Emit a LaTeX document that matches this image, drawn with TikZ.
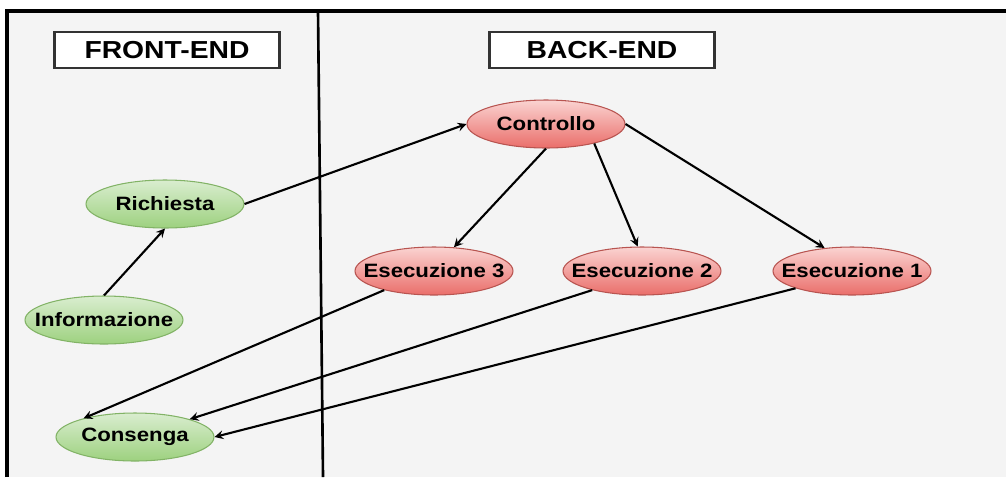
\documentclass[tikz,border=0pt]{standalone}
\usepackage{fontspec}
\setmainfont{Liberation Sans}
\newfontfamily\widesans[FakeStretch=1.15]{Liberation Sans}
\usepackage{tikz}
\usetikzlibrary{shapes.geometric}

\definecolor{panel}{HTML}{F4F4F4}
\definecolor{greentop}{HTML}{D9EDCF}
\definecolor{greenbot}{HTML}{9DD17F}
\definecolor{greenline}{HTML}{82B366}
\definecolor{redtop}{HTML}{FAD3D1}
\definecolor{redbot}{HTML}{EA6E6A}
\definecolor{redline}{HTML}{B85450}

\begin{document}
\begin{tikzpicture}[x=0.02cm, y=-0.02cm,
  ball/.style={ellipse, line width=0.6pt, minimum width=3.16cm, minimum height=0.96cm,
    inner xsep=-1cm, inner ysep=0pt, font=\widesans\bfseries\fontsize{11}{13}\selectfont},
  greenball/.style={ball, draw=greenline, top color=greentop, bottom color=greenbot},
  redball/.style={ball, draw=redline, top color=redtop, bottom color=redbot},
  titlebox/.style={draw=black!80, line width=1.4pt, fill=white, minimum width=4.5cm, minimum height=0.72cm,
    inner sep=0pt, font=\widesans\bfseries\fontsize{14}{16}\selectfont},
  arr/.style={black, line width=1.2pt, -{stealth}}]
\useasboundingbox (0,0) rectangle (1006,477);

% panel and frame
\fill[panel] (7,11) rectangle (1006,477);
\draw[line width=1.8pt] (7,477) -- (7,11) -- (1006,11);
\draw[line width=1.5pt] (318,11) -- (323,477);

% titles
\node[titlebox] (front) at (167,50) {FRONT-END};
\node[titlebox] (back) at (602,50) {BACK-END};

%front-end
\node[greenball] (richiesta) at (165,204) {Richiesta};
\node[greenball] (info) at (104,320) {Informazione};
\node[greenball] (consegna) at (135,437) {Consenga};

%back-end
\node[redball] (controllo) at (546,124) {Controllo};
\node[redball] (es3) at (434,271) {Esecuzione 3};
\node[redball] (es2) at (642,271) {Esecuzione 2};
\node[redball] (es1) at (852,271) {Esecuzione 1};

\draw[arr] (info.north) -- (richiesta.south);
\draw[arr] (richiesta.east) -- (controllo.west);

\draw[arr] (controllo.south) -- (es3.50);
\draw[arr] (controllo.-22) -- (es2.100);
\draw[arr] (controllo.east) -- (es1.140);

\draw[arr] (es3.-159) -- (consegna.160);
\draw[arr] (es2.-159) -- (consegna.18);
\draw[arr] (es1.-163) -- (consegna.east);
\end{tikzpicture}
\end{document}
